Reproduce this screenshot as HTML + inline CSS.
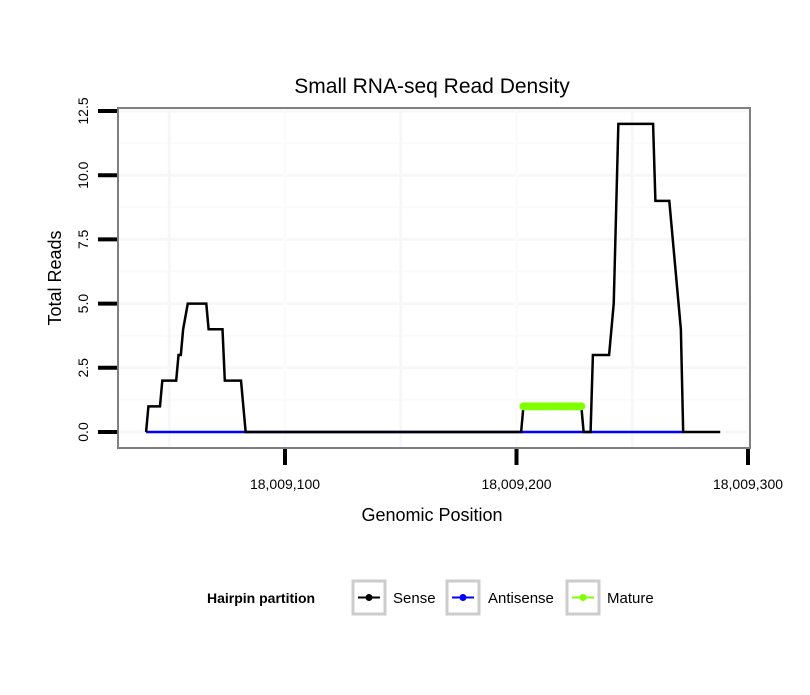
<!DOCTYPE html>
<html><head><meta charset="utf-8"><style>
body{margin:0;background:#fff;}
text{font-family:"Liberation Sans",sans-serif;}
</style></head><body>
<svg id="chart" width="810" height="690" xmlns="http://www.w3.org/2000/svg">
<rect width="810" height="690" fill="#fff"/>
<text x="432" y="93" font-size="21" text-anchor="middle">Small RNA-seq Read Density</text>
<g id="grid"></g>
<g id="series"></g>
<rect x="118" y="108" width="632" height="340" fill="none" stroke="#7f7f7f" stroke-width="2"/>
<g id="axes"></g>
<text x="432" y="521" font-size="18" text-anchor="middle">Genomic Position</text>
<text transform="translate(61,278) rotate(-90)" font-size="18" text-anchor="middle">Total Reads</text>
<g>
<text x="207" y="603" font-size="14" font-weight="bold">Hairpin partition</text>
<g>
<rect x="353" y="581" width="32" height="33" fill="#fff" stroke="#ccc" stroke-width="3"/>
<line x1="358" y1="597.5" x2="380" y2="597.5" stroke="#000" stroke-width="2"/><circle cx="369" cy="597.5" r="3.5" fill="#000"/>
<text x="393" y="603" font-size="15">Sense</text></g>
<g>
<rect x="447" y="581" width="32" height="33" fill="#fff" stroke="#ccc" stroke-width="3"/>
<line x1="452" y1="597.5" x2="474" y2="597.5" stroke="#00f" stroke-width="2"/><circle cx="463" cy="597.5" r="3.5" fill="#00f"/>
<text x="488" y="603" font-size="15">Antisense</text></g>
<g>
<rect x="567" y="581" width="32" height="33" fill="#fff" stroke="#ccc" stroke-width="3"/>
<line x1="572" y1="597.5" x2="594" y2="597.5" stroke="#7fff00" stroke-width="2"/><circle cx="583" cy="597.5" r="3.5" fill="#7fff00"/>
<text x="607" y="603" font-size="15">Mature</text></g>
</g>
</svg>
<script>
const positions=[40,41,46,47,53,54,55,56,58,66,67,73,74,81,83,202,203,228,229,232,233,240,242,244,259,260,266,271,272,288];
const senseValues=[0,1,1,2,2,3,3,4,5,5,4,4,2,2,0,0,1,1,0,0,3,3,5,12,12,9,9,4,0,0];
const antisensePositions=[40,83,202,272];
const antisenseValues=[0,0,0,0];
const maturePositions=[203,204,205,206,207,208,209,210,211,212,213,214,215,216,217,218,219,220,221,222,223,224,225,226,227,228];
const matureValues=[1,1,1,1,1,1,1,1,1,1,1,1,1,1,1,1,1,1,1,1,1,1,1,1,1,1];
const yTicks=[0,2.5,5,7.5,10,12.5];
const yTickLabels=["0.0","2.5","5.0","7.5","10.0","12.5"];
const xTicks=[100,200,300];
const xTickLabels=["18,009,100","18,009,200","18,009,300"];
const NS="http://www.w3.org/2000/svg";
const xs=p=>285+(p-100)*2.315;
const ys=v=>432-v*25.68;
function mk(tag,attrs,parent){const e=document.createElementNS(NS,tag);for(const k in attrs)e.setAttribute(k,attrs[k]);parent.appendChild(e);return e;}
const grid=document.getElementById('grid'),axes=document.getElementById('axes'),ser=document.getElementById('series');
mk('rect',{x:118,y:108,width:632,height:340,fill:'#fff'},grid);
for(let i=0;i<yTicks.length-1;i++){const v=(yTicks[i]+yTicks[i+1])/2;mk('line',{x1:118,x2:750,y1:ys(v),y2:ys(v),stroke:'#fbfbfb','stroke-width':2},grid);}
yTicks.forEach(v=>mk('line',{x1:118,x2:750,y1:ys(v),y2:ys(v),stroke:'#f7f7f7','stroke-width':3},grid));
[50,150,250].forEach(p=>mk('line',{x1:xs(p),x2:xs(p),y1:108,y2:448,stroke:'#f7f7f7','stroke-width':3},grid));
xTicks.forEach(p=>mk('line',{x1:xs(p),x2:xs(p),y1:108,y2:448,stroke:'#fbfbfb','stroke-width':3},grid));
yTicks.forEach((v,i)=>{
 const l=mk('line',{x1:98,x2:117,y1:ys(v),y2:ys(v),stroke:'#000','stroke-width':4},axes);
 
 
 const t=mk('text',{transform:`translate(88,${ys(v)}) rotate(-90)`,'font-size':14,'text-anchor':'middle'},axes);
 t.textContent=yTickLabels[i];
 
 
});
xTicks.forEach((p,i)=>{
 const l=mk('line',{x1:xs(p),x2:xs(p),y1:449,y2:465,stroke:'#000','stroke-width':4},axes);
 
 
 const t=mk('text',{x:xs(p),y:489,'font-size':14,'text-anchor':'middle'},axes);
 t.textContent=xTickLabels[i];
 
 
});
const pts=(P,V)=>P.map((p,i)=>xs(p)+','+ys(V[i])).join(' ');
const a=mk('polyline',{points:pts(antisensePositions,antisenseValues),fill:'none',stroke:'#00f','stroke-width':2.5},ser);


const s=mk('polyline',{points:pts(positions,senseValues),fill:'none',stroke:'#000','stroke-width':2.5},ser);


const m=mk('polyline',{points:pts(maturePositions,matureValues),fill:'none',stroke:'#7fff00','stroke-width':3},ser);


maturePositions.forEach((p,i)=>{
 const c=mk('circle',{cx:xs(p),cy:ys(matureValues[i]),r:4,fill:'#7fff00'},ser);
 
 
});
</script>
</body></html>
